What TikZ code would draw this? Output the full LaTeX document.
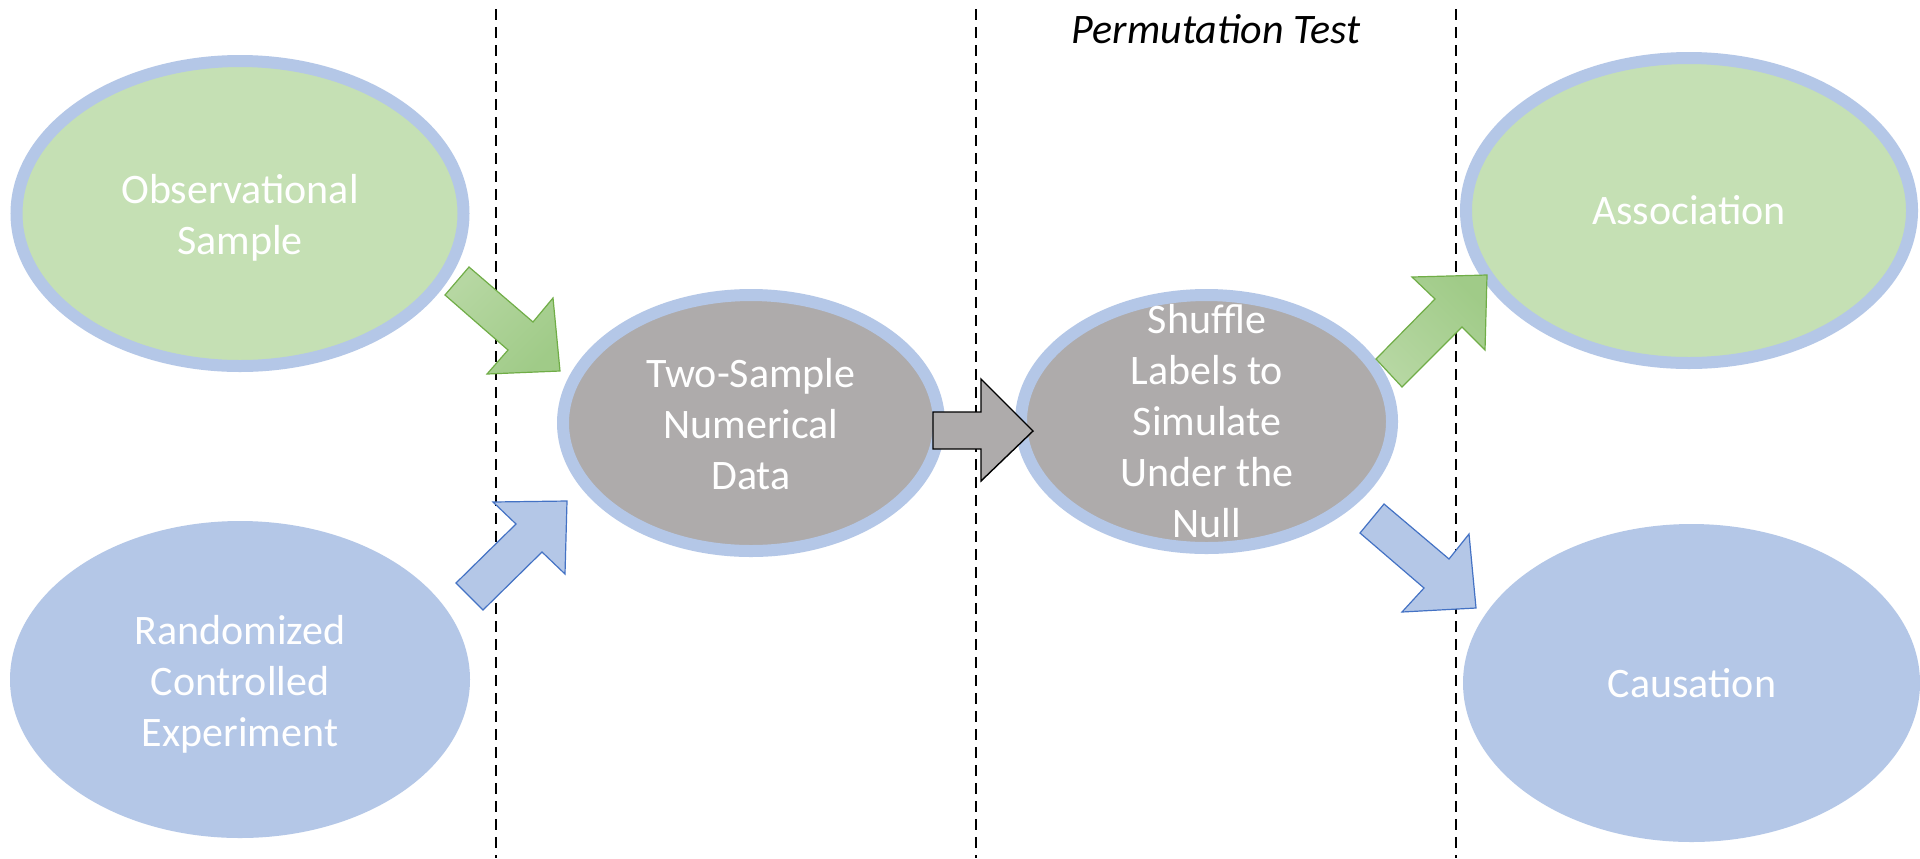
\documentclass[tikz,border=0pt]{standalone}
\usepackage{fontspec}
\setmainfont{Carlito}
\usetikzlibrary{shapes.geometric}
\definecolor{lgreen}{HTML}{C5E0B4}
\definecolor{lblue}{HTML}{B4C7E7}
\definecolor{gfill}{HTML}{AEABAB}
\definecolor{agreen}{HTML}{70AD47}
\definecolor{ablue}{HTML}{4472C4}
\definecolor{glight}{HTML}{B6D7A2}
\definecolor{gdark}{HTML}{A0CB88}
\begin{document}
\begin{tikzpicture}[x=0.5pt,y=-0.5pt,
  oval/.style={ellipse, inner sep=0pt, outer sep=0pt},
  ring/.style={oval, draw=lblue, line width=6pt},
  lab/.style={text=white, align=center, inner sep=0pt,
    font=\fontsize{21pt}{25.5pt}\selectfont},
  divider/.style={line width=1.4pt, dash pattern=on 5.5pt off 3.5pt},
  garrow/.style={draw=agreen, line width=0.6pt, line join=miter, top color=glight, bottom color=gdark},
  barrow/.style={draw=ablue, line width=0.6pt, line join=miter, fill=lblue},
  karrow/.style={draw=black, line width=0.7pt, line join=miter, fill=gfill}]
\useasboundingbox[fill=white] (0,0) rectangle (1920,858);

% ellipses
\node[ring, fill=lgreen, minimum width=223.5pt, minimum height=152.5pt] (obs) at (240,213.5) {};
\node[oval, fill=lblue, minimum width=230pt, minimum height=158.5pt] (rce) at (240,679.5) {};
\node[ring, fill=gfill, minimum width=188pt, minimum height=128pt] (two) at (751,423) {};
\node[ring, fill=gfill, minimum width=185.5pt, minimum height=126.5pt] (shuf) at (1206.5,421.5) {};
\node[ring, fill=lgreen, minimum width=223pt, minimum height=152.5pt] (assoc) at (1689,210.5) {};
\node[oval, fill=lblue, minimum width=228.5pt, minimum height=159pt] (caus) at (1691.5,683) {};

% dividers
\coordinate (d1t) at (496,9);   \coordinate (d1b) at (496,858);
\coordinate (d2t) at (976,9);   \coordinate (d2b) at (976,858);
\coordinate (d3t) at (1456,9);  \coordinate (d3b) at (1456,858);
\draw[divider] (d1t) -- (d1b);
\draw[divider] (d2t) -- (d2b);
\draw[divider] (d3t) -- (d3b);

% block arrows
\path[garrow, shading angle=45] (469,267) -- (533,322) -- (553,298) -- (560,371) -- (487,374) -- (508,350) -- (445,295) -- cycle;
\path[barrow] (456,583) -- (516,524) -- (493,502) -- (567,501) -- (565,574) -- (542,552) -- (483,610) -- cycle;
\path[karrow] (933,412) -- (981,412) -- (981,379) -- (1033,431) -- (981,481) -- (981,449) -- (933,449) -- cycle;
\path[garrow, top color=gdark, bottom color=glight, shading angle=-45] (1376,359) -- (1435,299) -- (1412,277) -- (1487,275) -- (1485,350) -- (1462,327) -- (1402,387) -- cycle;
\path[barrow] (1384,504) -- (1449,559) -- (1469,534) -- (1476,608) -- (1402,612) -- (1424,588) -- (1360,533) -- cycle;

% texts
\node[lab] (obsT) at (240,218) {Observational\\Sample};
\node[lab] (rceT) at (240,684) {Randomized\\Controlled\\Experiment};
\node[lab] (twoT) at (751,424.5) {Two-Sample\\Numerical\\Data};
\node[lab] (shufT) at (1207,421) {Shuffle\\Labels to\\Simulate\\Under the\\Null};
\node[lab] (assocT) at (1689,210.5) {Association};
\node[lab] (causT) at (1692,683.5) {Causation};
\node[inner sep=0pt, font=\fontsize{21pt}{25.5pt}\selectfont\itshape] (title) at (1216,29) {Permutation Test};
\end{tikzpicture}
\end{document}
